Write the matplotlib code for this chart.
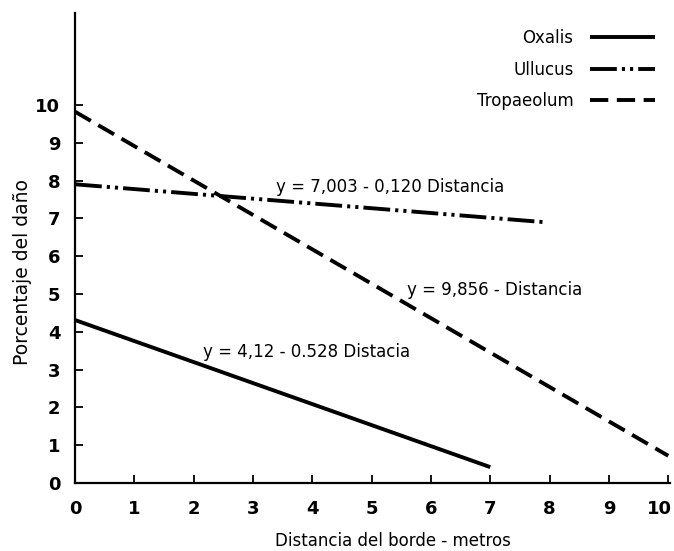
import matplotlib
matplotlib.use("Agg")
import matplotlib.pyplot as plt
from matplotlib.transforms import ScaledTranslation

plt.rcParams['font.family'] = ['DejaVu Sans']

# Data
oxalis_x = [0, 7]
oxalis_y = [4.31, 0.42]
ullucus_x = [0, 7.9]
ullucus_y = [7.9, 6.9]
tropaeolum_x = [0, 10]
tropaeolum_y = [9.82, 0.72]
series_names = ["Oxalis", "Ullucus", "Tropaeolum"]
x_ticks = list(range(0, 11))
y_ticks = list(range(0, 11))
eq_texts = ["y = 7,003 - 0,120 Distancia",
            "y = 9,856 - Distancia",
            "y = 4,12 - 0.528 Distacia"]
eq_pos = [(5.31, 7.83), (7.07, 5.1), (3.9, 3.47)]

fig = plt.figure(figsize=(6.74, 5.51), dpi=100)
ax = fig.add_axes([0.1113, 0.1234, 0.8828, 0.853])

lw = 2.8
ax.plot(oxalis_x, oxalis_y, color='black', lw=lw, ls='-', label=series_names[0],
        solid_capstyle='butt')
ax.plot(ullucus_x, ullucus_y, color='black', lw=lw,
        ls=(0, (6.9, 1.3, 0.8, 1.3, 0.8, 1.3)), label=series_names[1],
        dash_capstyle='butt')
ax.plot(tropaeolum_x, tropaeolum_y, color='black', lw=lw, ls=(0, (4.7, 2.2)),
        label=series_names[2], dash_capstyle='butt')

for t, (x, y) in zip(eq_texts, eq_pos):
    ax.text(x, y, t, ha='center', va='center', fontsize=12)

ax.set_xlim(0, 10.03)
ax.set_ylim(0, 12.43)
ax.set_xticks(x_ticks)
ax.set_yticks(y_ticks)
ax.tick_params(direction='in', length=6, width=1.3, labelsize=13, colors='black')
ax.tick_params(axis='x', pad=12)
ax.tick_params(axis='y', pad=10.5)
for lab in ax.get_xticklabels() + ax.get_yticklabels():
    lab.set_fontweight('bold')
# keep the last x tick label inside the picture
last = ax.get_xticklabels()[-1]
last.set_transform(last.get_transform() + ScaledTranslation(-6 / 72, 0, fig.dpi_scale_trans))

for s in ['top', 'right']:
    ax.spines[s].set_visible(False)
for s in ['left', 'bottom']:
    ax.spines[s].set_linewidth(1.6)

ax.set_xlabel("Distancia del borde - metros", fontsize=12)
ax.xaxis.set_label_coords(0.534, -0.104)
ax.set_ylabel("Porcentaje del daño", fontsize=13.5)
ax.yaxis.set_label_coords(-0.089, 0.449)
ax.yaxis.label.set_va('center')

leg = ax.legend(loc='upper right', bbox_to_anchor=(0.975, 0.966), frameon=False,
                markerfirst=False, handlelength=3.9, fontsize=12,
                labelspacing=0.82, handletextpad=1.0, borderpad=0, borderaxespad=0)

fig.savefig("out.png", dpi=100)
